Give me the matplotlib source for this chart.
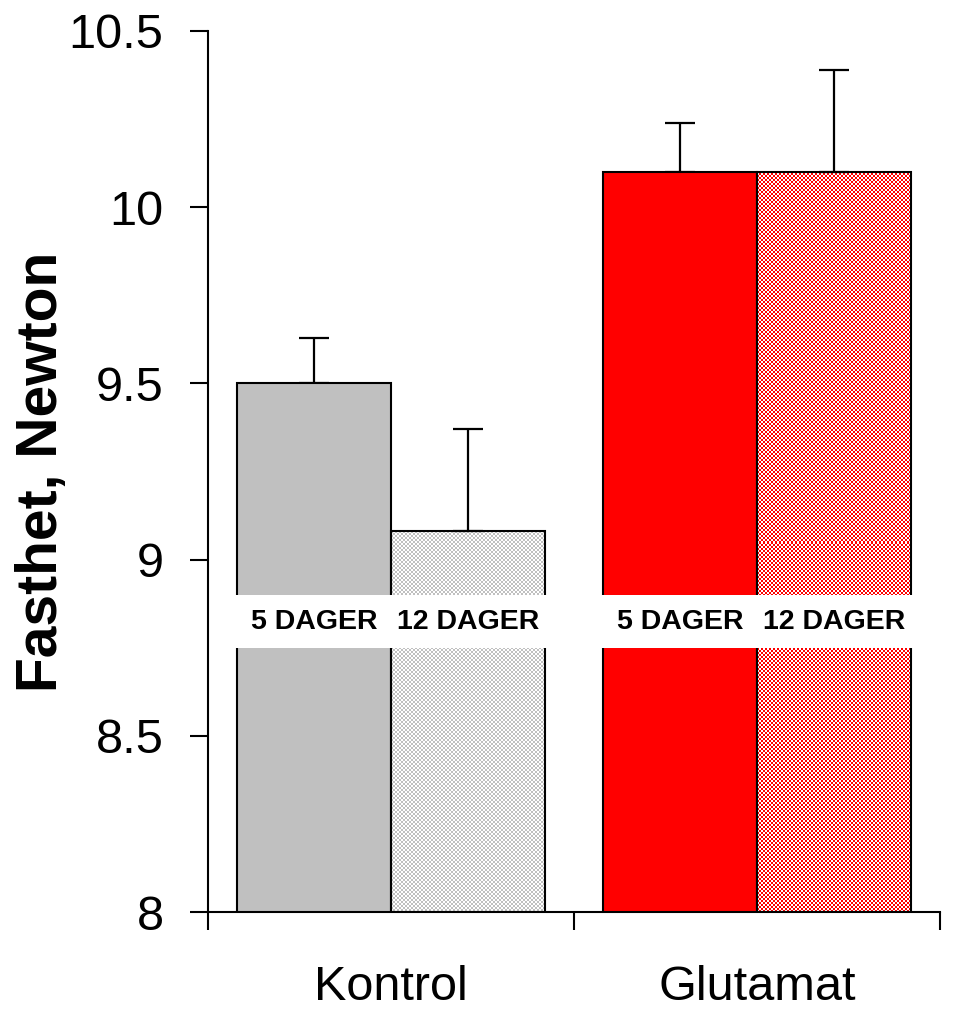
import numpy as np
import matplotlib
matplotlib.use("Agg")
import matplotlib.pyplot as plt

plt.rcParams["font.family"] = ["Liberation Sans", "DejaVu Sans"]

groups = ["Kontrol", "Glutamat"]
day_labels = ["5 DAGER", "12 DAGER"]
means_5 = [9.50, 10.10]
means_12 = [9.08, 10.10]
err_5 = [0.13, 0.14]
err_12 = [0.29, 0.29]
yticks = [8, 8.5, 9, 9.5, 10, 10.5]
ytick_labels = ["8", "8.5", "9", "9.5", "10", "10.5"]

base = 8.0
width = 0.42
solid_colors = ["#c0c0c0", "#ff0000"]


def pattern_image(ax, x0, x1, y0, y1, color):
    # checker pattern of colour and white, 2 px cells
    p0 = ax.transData.transform((x0, y0))
    p1 = ax.transData.transform((x1, y1))
    w = int(round(abs(p1[0] - p0[0])))
    h = int(round(abs(p1[1] - p0[1])))
    rgb = np.array(matplotlib.colors.to_rgb(color))
    img = np.ones((h, w, 3)) * rgb
    yy, xx = np.mgrid[0:h, 0:w]
    white = ((yy // 2) + (xx // 2)) % 2 == 1
    img[white] = 1.0
    ax.imshow(img, extent=(x0, x1, y0, y1), interpolation="nearest",
              aspect="auto", zorder=2)


fig = plt.figure(figsize=(9.55, 10.1), dpi=100)
ax = fig.add_axes([208 / 955, (1010 - 912) / 1010, 732 / 955, 881 / 1010])
ax.set_xlim(0, 2)
ax.set_ylim(8, 10.5)

centers = np.arange(len(groups)) + 0.5
x5 = centers - width / 2
x12 = centers + width / 2

for i in range(len(groups)):
    # solid 5-day bar
    ax.bar(x5[i], means_5[i] - base, bottom=base, width=width,
           color=solid_colors[i], edgecolor="black", linewidth=1.5, zorder=3)
    # patterned 12-day bar
    pattern_image(ax, x12[i] - width / 2, x12[i] + width / 2, base, means_12[i],
                  solid_colors[i])
    ax.bar(x12[i], means_12[i] - base, bottom=base, width=width,
           fill=False, edgecolor="black", linewidth=1.5, zorder=3)

ax.errorbar(x5, means_5, yerr=[np.zeros(2), err_5], fmt="none", ecolor="black",
            elinewidth=1.6, capsize=11, capthick=1.6, zorder=2.5)
ax.errorbar(x12, means_12, yerr=[np.zeros(2), err_12], fmt="none", ecolor="black",
            elinewidth=1.6, capsize=11, capthick=1.6, zorder=2.5)

# white band with day labels across the bars
for i in range(len(groups)):
    ax.fill_between([x5[i] - width / 2 - 0.005, x12[i] + width / 2 + 0.005],
                    8.75, 8.90, color="white", linewidth=0, zorder=5)
    ax.text(x5[i], 8.823, day_labels[0], ha="center", va="center",
            fontsize=20.5, fontweight="bold", zorder=6)
    ax.text(x12[i], 8.823, day_labels[1], ha="center", va="center",
            fontsize=20.5, fontweight="bold", zorder=6)

for s in ["top", "right"]:
    ax.spines[s].set_visible(False)
for s in ["left", "bottom"]:
    ax.spines[s].set_linewidth(1.5)

ax.set_yticks(yticks)
ax.set_yticklabels(ytick_labels)
ax.tick_params(axis="y", direction="out", length=13, width=1.5, pad=19, labelsize=35)
ax.set_xticks([0, 1, 2])
ax.set_xticklabels([])
ax.tick_params(axis="x", which="major", direction="out", length=13, width=1.5)
ax.set_xticks(centers, minor=True)
ax.set_xticklabels(groups, minor=True)
ax.tick_params(axis="x", which="minor", length=0, pad=38, labelsize=35)

ax.set_ylabel("Fasthet, Newton", fontsize=41, fontweight="bold")
ax.yaxis.set_label_coords(-0.19, 0.5)

fig.savefig("out.png", dpi=100)
